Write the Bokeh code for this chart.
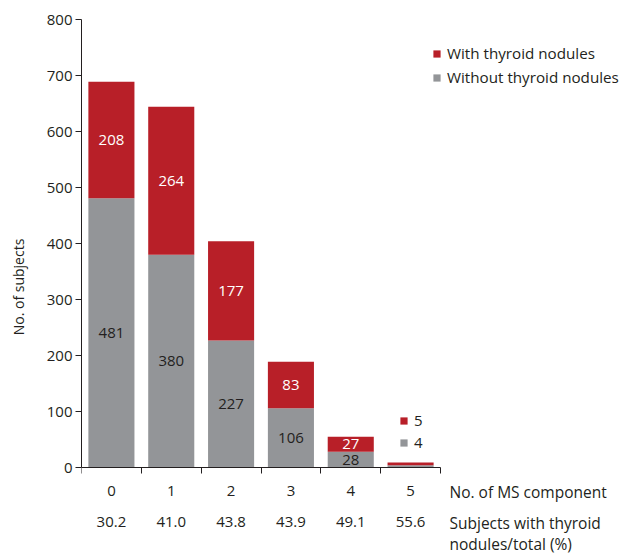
from bokeh.plotting import figure
from bokeh.models import (Range1d, FixedTicker, LinearAxis, Label, Legend,
                          LegendItem, ColumnDataSource)
from bokeh.embed import file_html
from bokeh.resources import INLINE
from bokeh.core.properties import value

# ---- data ----
components = ["0", "1", "2", "3", "4", "5"]
without_nodules = [481, 380, 227, 106, 28, 4]
with_nodules = [208, 264, 177, 83, 27, 5]
percent_with = ["30.2", "41.0", "43.8", "43.9", "49.1", "55.6"]
y_ticks = [0, 100, 200, 300, 400, 500, 600, 700, 800]

RED = "#B81F28"
GRAY = "#939598"
INK = "#231F20"
FONT = "Open Sans"

# ---- layout constants (pixels) ----
W, H = 620, 554
LEFT, TOP = 81, 19
AX_W, AX_H = 359, 448          # pixel extent of the 0..6 / 0..800 axes
Y_MAX = 800
n = len(components)
px_x = AX_W / n
px_y = AX_H / Y_MAX
FW, FH = W - LEFT, H - TOP

xc = [i + 0.5 for i in range(n)]
src = ColumnDataSource(dict(x=xc, without=without_nodules, withn=with_nodules))

p = figure(width=W, height=H,
           x_range=Range1d(0, FW / px_x),
           y_range=Range1d(Y_MAX - FH / px_y, Y_MAX),
           output_backend="svg", toolbar_location=None,
           min_border_left=LEFT, min_border_right=0, min_border_top=TOP,
           min_border_bottom=0, x_axis_location=None)
p.xgrid.visible = False
p.ygrid.visible = False
p.outline_line_color = None
p.background_fill_color = "white"
p.border_fill_color = "white"

rs = p.vbar_stack(["without", "withn"], x="x", width=0.77, color=[GRAY, RED],
                  line_color=None, source=src)

# in-bar labels (all but the last, tiny bar)
m = n - 1
lab_gray = ColumnDataSource(dict(
    x=xc[:m], y=[w / 2 for w in without_nodules[:m]],
    t=[str(v) for v in without_nodules[:m]]))
lab_red = ColumnDataSource(dict(
    x=xc[:m], y=[w + h / 2 for w, h in zip(without_nodules[:m], with_nodules[:m])],
    t=[str(v) for v in with_nodules[:m]]))
p.text(x="x", y="y", text="t", source=lab_gray, text_align="center",
       text_baseline="middle", text_font=value(FONT), text_font_size="15px",
       text_color=INK)
p.text(x="x", y="y", text="t", source=lab_red, text_align="center",
       text_baseline="middle", text_font=value(FONT), text_font_size="15px",
       text_color="white")

# y axis
ya = p.yaxis[0]
ya.ticker = FixedTicker(ticks=y_ticks)
ya.bounds = (0, Y_MAX)
ya.axis_label = "No. of subjects"
ya.axis_label_text_font = FONT
ya.axis_label_text_font_style = "normal"
ya.axis_label_text_font_size = "14px"
ya.axis_label_text_color = INK
ya.axis_label_standoff = 16
ya.major_label_text_font = FONT
ya.major_label_text_font_size = "15px"
ya.major_label_text_color = INK
ya.major_label_standoff = 3
ya.major_tick_out = 6
ya.major_tick_in = 0
ya.minor_tick_line_color = None
ya.axis_line_color = INK
ya.major_tick_line_color = INK

# x axis: ticks at boundaries, labels at centres, drawn at y = 0
xa = LinearAxis(fixed_location=0, bounds=(0, n),
                ticker=FixedTicker(ticks=xc, minor_ticks=list(range(n + 1))),
                major_label_overrides={x: c for x, c in zip(xc, components)})
xa.major_tick_out = 0
xa.major_tick_in = 0
xa.minor_tick_out = 6
xa.minor_tick_in = 0
xa.minor_tick_line_color = INK
xa.axis_line_color = INK
xa.major_label_text_font = FONT
xa.major_label_text_font_size = "15px"
xa.major_label_text_color = INK
xa.major_label_standoff = 12
p.add_layout(xa, "below")

xa2 = LinearAxis(fixed_location=0, bounds=(0, n), ticker=FixedTicker(ticks=xc),
                 major_label_overrides={x: c for x, c in zip(xc, percent_with)})
xa2.axis_line_color = None
xa2.major_tick_line_color = None
xa2.minor_tick_line_color = None
xa2.major_tick_out = 0
xa2.major_tick_in = 0
xa2.major_label_text_font = FONT
xa2.major_label_text_font_size = "15px"
xa2.major_label_text_color = INK
xa2.major_label_standoff = 49
p.add_layout(xa2, "below")

for txt, dy in [("No. of MS component", -24), ("Subjects with thyroid", -55),
                ("nodules/total (%)", -76)]:
    p.add_layout(Label(x=n, y=0, x_offset=9, y_offset=dy, text=txt,
                       text_baseline="middle", text_align="left",
                       text_font=FONT, text_font_size="15.5px", text_color=INK))

# legends
leg = Legend(items=[LegendItem(label="With thyroid nodules", renderers=[rs[1]]),
                    LegendItem(label="Without thyroid nodules", renderers=[rs[0]])],
             location=(351, H - 87))
leg2 = Legend(items=[LegendItem(label=str(with_nodules[-1]), renderers=[rs[1]]),
                     LegendItem(label=str(without_nodules[-1]), renderers=[rs[0]])],
              location=(318, H - 452))
for L, sp, fs in [(leg, 4, "15.2px"), (leg2, 2, "15px")]:
    L.glyph_width = 9
    L.glyph_height = 9
    L.label_standoff = 6
    L.spacing = sp
    L.padding = 0
    L.margin = 0
    L.border_line_color = None
    L.background_fill_alpha = 0
    L.label_text_font = FONT
    L.label_text_font_size = fs
    L.label_text_color = INK
    p.add_layout(L)

open("out.html", "w").write(file_html(p, INLINE))
